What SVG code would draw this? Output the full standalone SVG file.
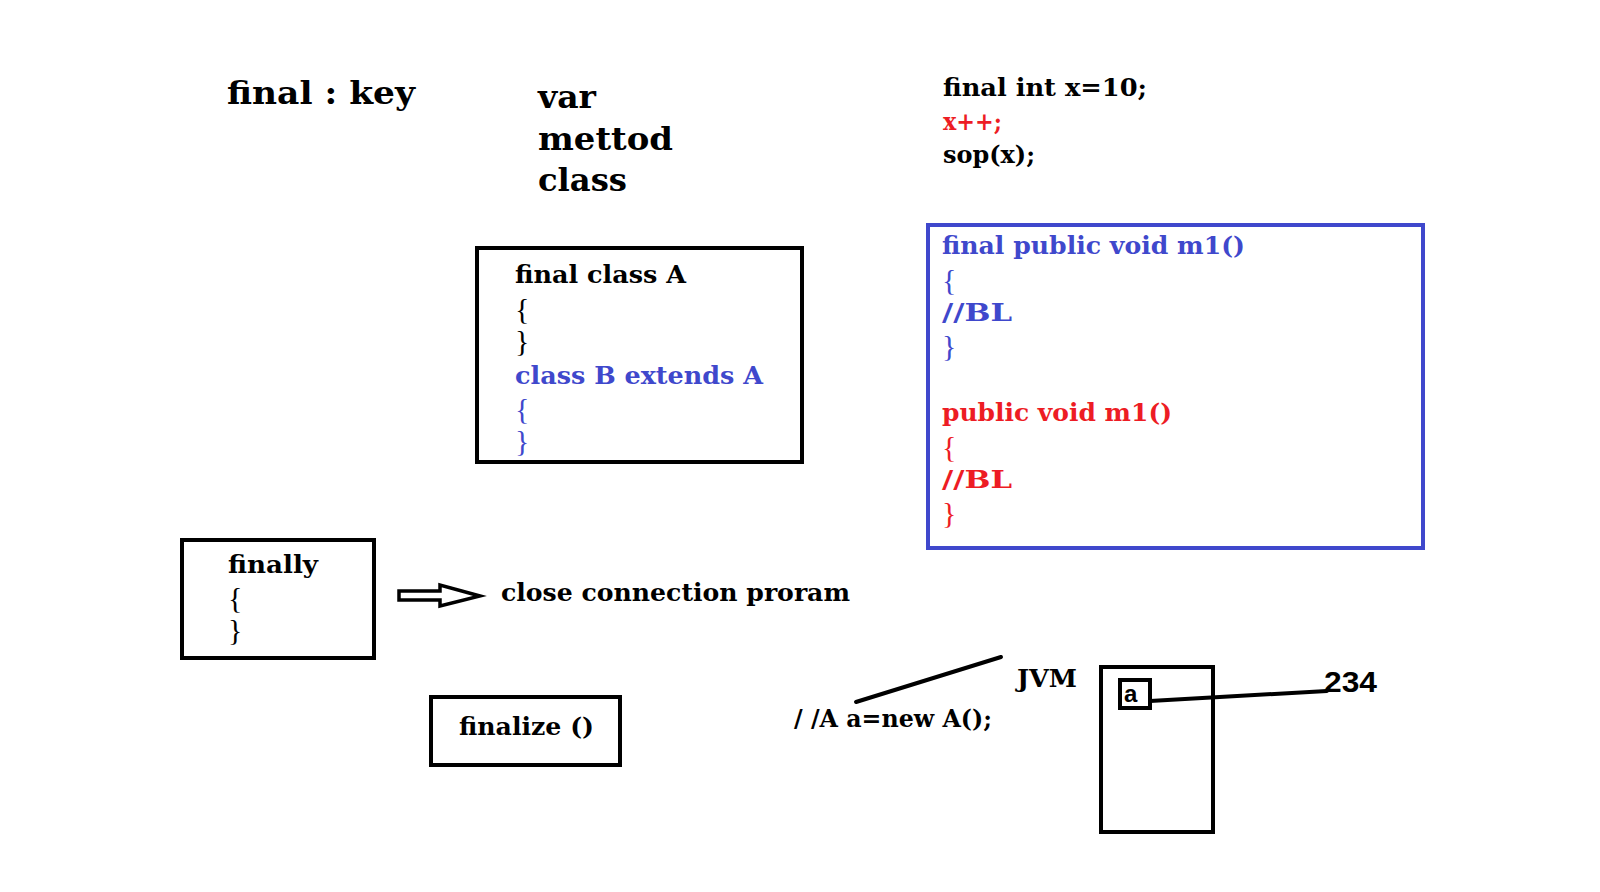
<svg xmlns="http://www.w3.org/2000/svg" width="1600" height="892" viewBox="0 0 1600 892">
<style>
.t{font-family:"DejaVu Serif","Liberation Serif",serif;font-weight:bold;fill:#000}
.big{font-size:32px}
.code{font-size:25px}
.br{font-family:"Liberation Serif","DejaVu Serif",serif;font-weight:normal;font-size:30px;fill:#000}
.blue{fill:#3f48cc}
.red{fill:#ed1c24}
.box{fill:none;stroke:#000;stroke-width:4}
.bbox{fill:none;stroke:#3f48cc;stroke-width:4}
.ln{fill:none;stroke:#000;stroke-width:4;stroke-linecap:round}
</style>
<rect width="1600" height="892" fill="#fff"/>
<g id="title"><text class="t big" x="227" y="104" textLength="188" lengthAdjust="spacingAndGlyphs">final : key</text></g>
<g id="kinds">
<text class="t big" x="538" y="108" textLength="58" lengthAdjust="spacingAndGlyphs">var</text>
<text class="t big" x="538" y="150" textLength="135" lengthAdjust="spacingAndGlyphs">mettod</text>
<text class="t big" x="538" y="191" textLength="89" lengthAdjust="spacingAndGlyphs">class</text>
</g>
<g id="varcode">
<text class="t code" x="943" y="96" textLength="204" lengthAdjust="spacingAndGlyphs">final int x=10;</text>
<text class="t code red" x="943" y="130" textLength="59" lengthAdjust="spacingAndGlyphs">x++;</text>
<text class="t code" x="943" y="163" textLength="92" lengthAdjust="spacingAndGlyphs">sop(x);</text>
</g>
<g id="classbox">
<rect class="box" x="477" y="248" width="325" height="214"/>
<text class="t code" x="515" y="283" textLength="171" lengthAdjust="spacingAndGlyphs">final class A</text>
<text class="br" x="515" y="319">{</text>
<text class="br" x="515" y="351">}</text>
<text class="t code blue" x="515" y="384" textLength="248" lengthAdjust="spacingAndGlyphs">class B extends A</text>
<text class="br blue" x="515" y="419">{</text>
<text class="br blue" x="515" y="451">}</text>
</g>
<g id="methodbox">
<rect class="bbox" x="928" y="225" width="495" height="323"/>
<text class="t code blue" x="942" y="254" textLength="303" lengthAdjust="spacingAndGlyphs">final public void m1()</text>
<text class="br blue" x="942" y="290">{</text>
<text class="t code blue" x="942" y="321" textLength="70" lengthAdjust="spacingAndGlyphs">//BL</text>
<text class="br blue" x="942" y="356">}</text>
<text class="t code red" x="942" y="421" textLength="230" lengthAdjust="spacingAndGlyphs">public void m1()</text>
<text class="br red" x="942" y="457">{</text>
<text class="t code red" x="942" y="488" textLength="70" lengthAdjust="spacingAndGlyphs">//BL</text>
<text class="br red" x="942" y="523">}</text>
</g>
<g id="finallybox">
<rect class="box" x="182" y="540" width="192" height="118"/>
<text class="t code" x="228" y="573" textLength="90" lengthAdjust="spacingAndGlyphs">finally</text>
<text class="br" x="228" y="608">{</text>
<text class="br" x="228" y="640">}</text>
</g>
<g id="closeconn"><text class="t code" x="501" y="601" textLength="349" lengthAdjust="spacingAndGlyphs">close connection proram</text></g>
<g id="finalizebox">
<rect class="box" x="431" y="697" width="189" height="68"/>
<text class="t code" x="459" y="735" textLength="135" lengthAdjust="spacingAndGlyphs">finalize ()</text>
</g>
<g id="newA"><text class="t code" x="794" y="727" textLength="198" lengthAdjust="spacingAndGlyphs">/ /A a=new A();</text></g>
<g id="jvmlabel"><text class="t code" x="1017" y="687" textLength="60" lengthAdjust="spacingAndGlyphs">JVM</text></g>
<g id="jvmbox">
<rect class="box" x="1101" y="667" width="112" height="165"/>
<rect class="box" x="1120" y="680" width="30" height="28"/>
<text font-family="Liberation Sans, Arial, sans-serif" font-weight="bold" font-size="24" x="1124" y="702">a</text>
</g>
<g id="val"><text x="1324" y="692" font-family="Liberation Sans, Arial, sans-serif" font-size="29" font-weight="bold" textLength="53" lengthAdjust="spacingAndGlyphs">234</text></g>
<g id="connectors">
<path d="M399 591 H440 V585 L480 596 L440 606 V600 H399 Z" fill="#fff" stroke="#000" stroke-width="3.5" stroke-linejoin="miter"/>
<path class="ln" d="M856 702 L1001 657"/>
<path class="ln" d="M1150 701 L1327 691"/>
</g>
</svg>
